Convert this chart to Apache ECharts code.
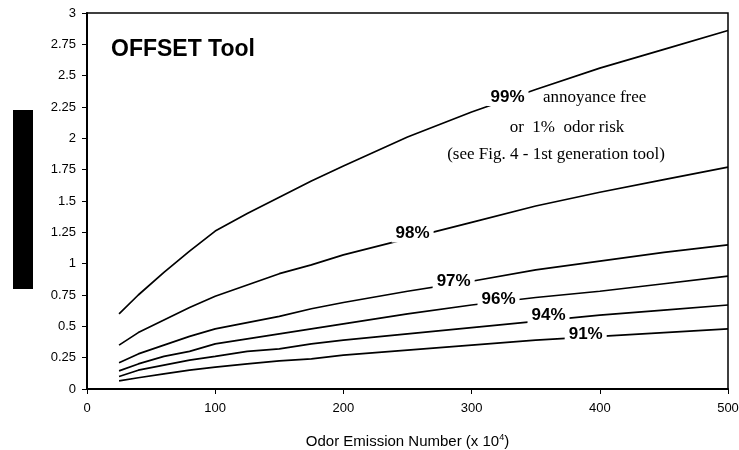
<!DOCTYPE html>
<html><head><meta charset="utf-8">
<script src="https://cdn.jsdelivr.net/npm/echarts@6/dist/echarts.min.js"></script>
<style>html,body{margin:0;padding:0;background:#fff}#c{width:739px;height:450px}</style>
</head><body><div id="c"></div>
<script>
const xs = [25, 40, 60, 80, 100, 125, 150, 175, 200, 250, 300, 350, 400, 450, 500];
const s99 = [0.60, 0.75, 0.93, 1.10, 1.26, 1.40, 1.53, 1.66, 1.78, 2.01, 2.21, 2.39, 2.56, 2.71, 2.86];
const s98 = [0.35, 0.45, 0.55, 0.65, 0.74, 0.83, 0.92, 0.99, 1.07, 1.20, 1.33, 1.46, 1.57, 1.67, 1.77];
const s97 = [0.21, 0.28, 0.35, 0.42, 0.48, 0.53, 0.58, 0.64, 0.69, 0.78, 0.86, 0.95, 1.02, 1.09, 1.15];
const s96 = [0.145, 0.20, 0.26, 0.30, 0.36, 0.40, 0.44, 0.48, 0.52, 0.60, 0.67, 0.73, 0.78, 0.84, 0.90];
const s94 = [0.10, 0.15, 0.19, 0.23, 0.26, 0.30, 0.32, 0.36, 0.39, 0.44, 0.49, 0.54, 0.59, 0.63, 0.67];
const s91 = [0.065, 0.09, 0.12, 0.15, 0.175, 0.20, 0.225, 0.24, 0.27, 0.31, 0.35, 0.39, 0.42, 0.45, 0.48];
const seriesNames = ['99%', '98%', '97%', '96%', '94%', '91%'];
const seriesData = [s99, s98, s97, s96, s94, s91];
const labelCoords = [[328, 2.33], [254, 1.24], [286, 0.86], [321, 0.715], [360, 0.585], [389, 0.435]];
const noteLines = ['annoyance free', 'or  1%  odor risk', '(see Fig. 4 - 1st generation tool)'];

const chart = echarts.init(document.getElementById('c'), null, {renderer: 'canvas'});
const series = seriesData.map((d, i) => ({
  name: seriesNames[i],
  type: 'line',
  data: xs.map((x, j) => [x, d[j]]),
  symbol: 'none',
  smooth: false,
  lineStyle: {color: '#000', width: 1.7},
  z: 2,
  markPoint: {
    symbol: 'rect', symbolSize: 0,
    data: [{coord: labelCoords[i]}],
    label: {
      show: true, position: 'inside', formatter: seriesNames[i],
      color: '#000', fontWeight: 'bold', fontSize: 17, fontFamily: 'Arial, Liberation Sans',
      backgroundColor: '#fff', padding: [1, 4, 0, 4]
    },
    z: 5
  }
}));

chart.setOption({
  backgroundColor: '#fff',
  animation: false,
  grid: {left: 87, right: 11, top: 13, bottom: 61, show: true, borderColor: '#000', borderWidth: 1.5,
         containLabel: false, outerBoundsMode: 'none'},
  xAxis: {
    type: 'value', min: 0, max: 500, interval: 100,
    axisLine: {lineStyle: {color: '#000', width: 2}},
    axisTick: {show: true, length: 5, lineStyle: {color: '#000', width: 1}},
    axisLabel: {color: '#000', fontSize: 13, fontFamily: 'Arial, Liberation Sans', margin: 13},
    splitLine: {show: false},
    name: 'Odor Emission Number (x 10{sup|4})',
    nameLocation: 'middle', nameGap: 44,
    nameTextStyle: {color: '#000', fontSize: 15, fontFamily: 'Arial, Liberation Sans',
      rich: {sup: {fontSize: 9, verticalAlign: 'top', padding: [0, 0, 8, 0], fontFamily: 'Arial, Liberation Sans', color: '#000'}}}
  },
  yAxis: {
    type: 'value', min: 0, max: 3, interval: 0.25,
    axisLine: {show: true, lineStyle: {color: '#000', width: 2}},
    axisTick: {show: true, length: 5, lineStyle: {color: '#000', width: 1}},
    axisLabel: {color: '#000', fontSize: 13, fontFamily: 'Arial, Liberation Sans', margin: 11},
    splitLine: {show: false}
  },
  graphic: [
    {type: 'rect', left: 13, top: 110, shape: {width: 20, height: 179}, style: {fill: '#000'}},
    {type: 'text', left: 111, top: 38, style: {text: 'OFFSET Tool', fill: '#000', font: 'bold 23px Arial, Liberation Sans'}},
    {type: 'text', x: 543, y: 98, style: {text: noteLines[0], fill: '#000', font: '17px "Liberation Serif", "Times New Roman", serif', textVerticalAlign: 'middle'}},
    {type: 'text', x: 567, y: 128, style: {text: noteLines[1], fill: '#000', font: '17px "Liberation Serif", "Times New Roman", serif', textAlign: 'center', textVerticalAlign: 'middle'}},
    {type: 'text', x: 556, y: 155, style: {text: noteLines[2], fill: '#000', font: '17px "Liberation Serif", "Times New Roman", serif', textAlign: 'center', textVerticalAlign: 'middle'}}
  ],
  series: series
});
</script></body></html>
